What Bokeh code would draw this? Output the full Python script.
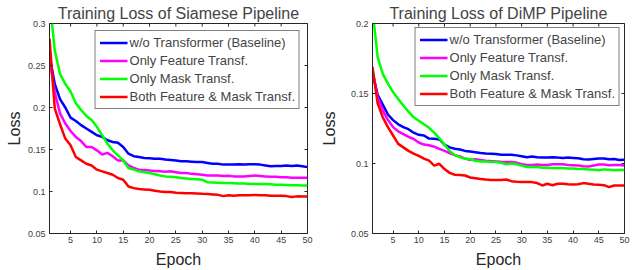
import math
from bokeh.plotting import figure
from bokeh.layouts import row
from bokeh.models import Range1d, FixedTicker, Legend, LegendItem
from bokeh.embed import file_html
from bokeh.resources import INLINE

epochs = list(range(1, 51))
x_ticks = [5, 10, 15, 20, 25, 30, 35, 40, 45, 50]

series_names = ["w/o Transformer (Baseline)", "Only Feature Transf.",
                "Only Mask Transf.", "Both Feature & Mask Transf."]
series_colors = ["#0000FF", "#FF00FF", "#00FF00", "#FF0000"]

# ---- Siamese pipeline ----
siam_baseline = [0.262, 0.228, 0.210, 0.200, 0.188, 0.184, 0.179, 0.175, 0.171, 0.167,
                 0.165, 0.161, 0.159, 0.158, 0.153, 0.145, 0.142, 0.141, 0.140, 0.1397,
                 0.139, 0.139, 0.138, 0.1375, 0.137, 0.136, 0.136, 0.1355, 0.135, 0.135,
                 0.134, 0.133, 0.133, 0.132, 0.132, 0.132, 0.1325, 0.132, 0.1325, 0.1325,
                 0.132, 0.131, 0.130, 0.1305, 0.1305, 0.131, 0.1305, 0.131, 0.130, 0.129]
siam_feature = [0.258, 0.218, 0.193, 0.181, 0.172, 0.165, 0.160, 0.153, 0.153, 0.149,
                0.144, 0.146, 0.142, 0.137, 0.137, 0.131, 0.128, 0.126, 0.1255, 0.125,
                0.1245, 0.124, 0.1235, 0.124, 0.123, 0.122, 0.122, 0.121, 0.1205, 0.120,
                0.119, 0.119, 0.119, 0.1185, 0.1187, 0.118, 0.118, 0.118, 0.1185, 0.119,
                0.1185, 0.118, 0.1175, 0.1175, 0.117, 0.117, 0.1165, 0.1165, 0.1165, 0.1163]
siam_mask = [0.33, 0.268, 0.24, 0.228, 0.219, 0.205, 0.197, 0.19, 0.185, 0.177,
             0.167, 0.157, 0.149, 0.143, 0.137, 0.128, 0.126, 0.124, 0.123, 0.122,
             0.1205, 0.119, 0.118, 0.1175, 0.117, 0.116, 0.1155, 0.115, 0.1145, 0.114,
             0.111, 0.1108, 0.1105, 0.110, 0.110, 0.1098, 0.1095, 0.1095, 0.109, 0.109,
             0.1088, 0.1088, 0.1085, 0.108, 0.108, 0.1078, 0.1075, 0.1075, 0.107, 0.107]
siam_both = [0.282, 0.199, 0.180, 0.163, 0.155, 0.141, 0.137, 0.133, 0.131, 0.126,
             0.124, 0.122, 0.120, 0.116, 0.114, 0.106, 0.104, 0.103, 0.1025, 0.102,
             0.101, 0.100, 0.0995, 0.0993, 0.0985, 0.0983, 0.098, 0.0978, 0.0975, 0.0972,
             0.097, 0.0965, 0.096, 0.0945, 0.0955, 0.095, 0.0955, 0.0955, 0.0955, 0.0958,
             0.0955, 0.0955, 0.095, 0.0948, 0.0948, 0.0945, 0.0935, 0.0942, 0.094, 0.094]
siam_yticks = [0.05, 0.1, 0.15, 0.2, 0.25, 0.3]
siam_ylabels = ["0.05", "0.1", "0.15", "0.2", "0.25", "0.3"]

# ---- DiMP pipeline ----
dimp_baseline = [0.165, 0.149, 0.142, 0.135, 0.131, 0.128, 0.126, 0.1245, 0.122, 0.1205,
                 0.120, 0.1178, 0.1176, 0.1172, 0.1135, 0.1115, 0.1105, 0.110, 0.109, 0.1085,
                 0.108, 0.1075, 0.1072, 0.107, 0.1068, 0.1062, 0.1062, 0.1062, 0.1058, 0.1052,
                 0.1045, 0.105, 0.1045, 0.1043, 0.1043, 0.1045, 0.1042, 0.104, 0.1042, 0.104,
                 0.1038, 0.103, 0.1029, 0.1032, 0.1035, 0.1036, 0.103, 0.1032, 0.1025, 0.1026]
dimp_feature = [0.166, 0.147, 0.138, 0.131, 0.126, 0.123, 0.121, 0.119, 0.1175, 0.115,
                0.1135, 0.113, 0.112, 0.1105, 0.109, 0.1075, 0.106, 0.105, 0.1035, 0.1025,
                0.103, 0.1025, 0.102, 0.1017, 0.1015, 0.1012, 0.101, 0.101, 0.1005, 0.0995,
                0.099, 0.099, 0.0992, 0.099, 0.099, 0.0995, 0.0995, 0.0995, 0.099, 0.0988,
                0.0985, 0.098, 0.0979, 0.0985, 0.0993, 0.0993, 0.0988, 0.099, 0.099, 0.0985]
dimp_mask = [0.21, 0.176, 0.164, 0.157, 0.151, 0.146, 0.1414, 0.137, 0.133, 0.1305,
             0.128, 0.1255, 0.122, 0.118, 0.1135, 0.109, 0.106, 0.1045, 0.1035, 0.103,
             0.102, 0.1015, 0.1015, 0.101, 0.101, 0.1005, 0.0995, 0.100, 0.0995, 0.0985,
             0.0975, 0.0975, 0.0975, 0.097, 0.097, 0.0968, 0.0968, 0.0967, 0.0965, 0.0965,
             0.096, 0.096, 0.0958, 0.0955, 0.0952, 0.0958, 0.0955, 0.0952, 0.0953, 0.0953]
dimp_both = [0.169, 0.143, 0.133, 0.126, 0.120, 0.114, 0.1115, 0.109, 0.107, 0.1055,
             0.1035, 0.102, 0.0985, 0.0998, 0.096, 0.0933, 0.092, 0.0918, 0.0914, 0.090,
             0.0895, 0.089, 0.0885, 0.0883, 0.0883, 0.0883, 0.0886, 0.0874, 0.087, 0.0867,
             0.0867, 0.0867, 0.086, 0.0843, 0.0855, 0.0845, 0.0855, 0.0855, 0.0852, 0.085,
             0.0852, 0.086, 0.0855, 0.085, 0.0848, 0.0845, 0.0831, 0.0843, 0.0843, 0.0842]
dimp_yticks = [0.05, 0.1, 0.15, 0.2]
dimp_ylabels = ["0.05", "0.1", "0.15", "0.2"]

FONT = "Liberation Sans"
AX = "#262626"


def make_panel(title, series, yticks, ylabels, yrange, width, bl, br, leg_margin, ylab_standoff):
    H = 270
    p = figure(width=width, height=H, output_backend="svg", toolbar_location=None,
               x_range=Range1d(1, 50), y_range=Range1d(*yrange),
               min_border_left=bl, min_border_right=br, min_border_top=23,
               min_border_bottom=37, title=title)
    p.title.text_font = FONT
    p.title.text_font_size = "16px"
    p.title.text_font_style = "normal"
    p.title.align = "center"
    p.title.offset = 0
    p.title.standoff = 4
    p.grid.visible = False
    p.outline_line_color = AX
    p.outline_line_alpha = 1
    p.background_fill_color = "white"
    p.border_fill_color = "white"

    p.xaxis.ticker = FixedTicker(ticks=x_ticks)
    p.yaxis.ticker = FixedTicker(ticks=yticks)
    p.yaxis.major_label_overrides = {t: l for t, l in zip(yticks, ylabels)}
    for ax in (p.xaxis[0], p.yaxis[0]):
        ax.axis_line_color = AX
        ax.major_tick_line_color = AX
        ax.major_tick_in = 3
        ax.major_tick_out = 0
        ax.minor_tick_line_color = None
        ax.major_label_text_font = FONT
        ax.major_label_text_font_size = "9px"
        ax.major_label_text_color = "#404040"
        ax.axis_label_text_font = FONT
        ax.axis_label_text_font_size = "16px"
        ax.axis_label_text_font_style = "normal"
        ax.axis_label_text_color = "#262626"
    p.xaxis.axis_label = "Epoch"
    p.yaxis.axis_label = "Loss"
    p.xaxis.major_label_standoff = 3
    p.xaxis.axis_label_standoff = 5
    p.yaxis.major_label_standoff = 4
    p.yaxis.axis_label_standoff = ylab_standoff

    # box ticks on top and right edges (half of each dash is clipped by the frame)
    p.scatter(x_ticks, [yrange[1]] * len(x_ticks), marker="dash", angle=math.pi / 2,
              size=6, line_color=AX, line_width=1)
    p.scatter([50] * len(yticks), yticks, marker="dash", size=6, line_color=AX, line_width=1)

    items = []
    for name, color, ys in zip(series_names, series_colors, series):
        r = p.line(epochs, ys, line_color=color, line_width=2.5)
        items.append(LegendItem(label=name, renderers=[r]))

    legend = Legend(items=items, location="top_right")
    legend.label_text_font = FONT
    legend.label_text_font_size = "13px"
    legend.label_height = 15
    legend.glyph_height = 15
    legend.glyph_width = 28
    legend.label_standoff = 2
    legend.spacing = 3
    legend.padding = 4
    legend.margin = leg_margin
    legend.border_line_color = "#000000"
    legend.border_line_width = 1
    legend.background_fill_alpha = 1
    p.add_layout(legend)
    return p


p1 = make_panel("Training Loss of Siamese Pipeline",
                [siam_baseline, siam_feature, siam_mask, siam_both],
                siam_yticks, siam_ylabels, (0.05, 0.3), 317, 49, 10, 7, 2)
p2 = make_panel("Training Loss of DiMP Pipeline",
                [dimp_baseline, dimp_feature, dimp_mask, dimp_both],
                dimp_yticks, dimp_ylabels, (0.05, 0.2), 318, 50, 11, 4, 10)

layout = row(p1, p2)
open("out.html", "w").write(file_html(layout, INLINE))
